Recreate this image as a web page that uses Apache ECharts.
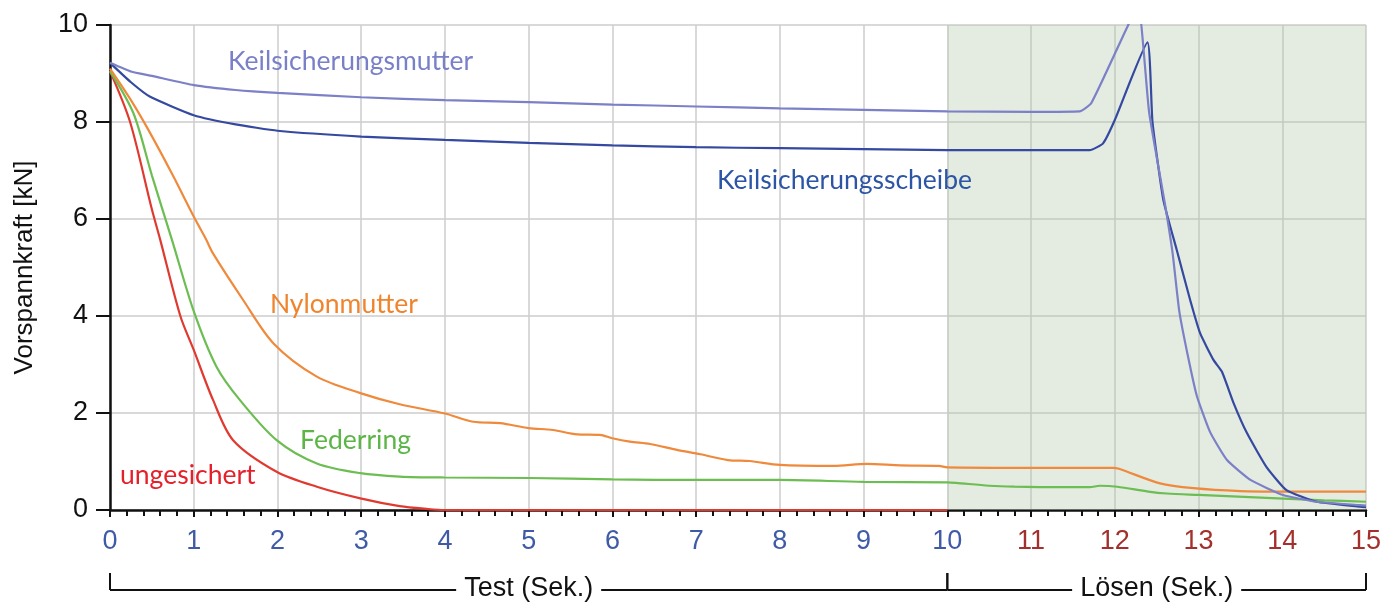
<!DOCTYPE html>
<html><head><meta charset="utf-8">
<script src="https://cdn.jsdelivr.net/npm/echarts@6/dist/echarts.min.js"></script>
<style>html,body{margin:0;padding:0;background:#fff}#c{width:1397px;height:604px}</style>
</head><body><div id="c"></div>
<script>
// ---- data (time in s, preload force in kN) ----
const seriesNames = ['Keilsicherungsmutter','Keilsicherungsscheibe','Nylonmutter','Federring','ungesichert'];
const keilmutter = [[0,9.22],[0.25,9.04],[0.5,8.95],[1,8.76],[1.5,8.66],[2,8.6],[3,8.51],[4,8.45],[5,8.41],[6,8.36],[7,8.32],[8,8.28],[9,8.25],[10,8.22],[11,8.21],[11.58,8.22],[11.72,8.39],[12.16,10],[12.28,10.4],[12.41,8.2],[12.6,6.3],[12.69,5.3],[12.77,4.1],[12.87,3.2],[12.98,2.35],[13.14,1.6],[13.34,1.03],[13.62,0.62],[14.01,0.31],[14.41,0.17],[14.93,0.1],[15,0.09]];
const keilscheibe = [[0,9.22],[0.25,8.82],[0.48,8.52],[1,8.14],[1.5,7.95],[2,7.82],[3,7.7],[4,7.63],[5,7.57],[6,7.52],[7,7.48],[8,7.46],[9,7.44],[10,7.42],[11,7.42],[11.7,7.42],[11.86,7.56],[12.0,8.04],[12.39,9.64],[12.45,8.0],[12.58,6.39],[12.74,5.36],[12.9,4.33],[13.02,3.64],[13.18,3.09],[13.28,2.85],[13.42,2.2],[13.58,1.58],[13.81,0.89],[14.05,0.41],[14.41,0.17],[14.93,0.07],[15,0.06]];
const nylonmutter = [[0,9.1],[0.25,8.45],[0.48,7.77],[0.75,6.9],[1.0,6.05],[1.15,5.57],[1.23,5.29],[1.59,4.33],[1.95,3.44],[2.47,2.75],[2.99,2.41],[3.46,2.18],[4.0,1.99],[4.34,1.82],[4.66,1.79],[5.0,1.69],[5.29,1.65],[5.58,1.56],[5.85,1.55],[6.0,1.48],[6.21,1.41],[6.45,1.36],[6.77,1.24],[7.05,1.15],[7.38,1.03],[7.64,1.01],[8.0,0.93],[8.64,0.91],[9.04,0.95],[9.44,0.92],[9.9,0.91],[10,0.88],[11,0.87],[11.98,0.87],[12.05,0.85],[12.54,0.55],[12.94,0.45],[13.5,0.39],[14,0.38],[15,0.38]];
const federring = [[0,9.05],[0.28,8.18],[0.5,6.9],[0.74,5.57],[1.0,4.1],[1.27,2.96],[1.55,2.27],[1.99,1.44],[2.47,0.96],[2.99,0.76],[3.46,0.69],[4,0.67],[5,0.66],[6,0.63],[7,0.62],[8,0.62],[9,0.58],[10,0.57],[10.1,0.56],[10.5,0.5],[10.8,0.48],[11.4,0.47],[11.7,0.47],[11.82,0.5],[12.03,0.48],[12.4,0.38],[12.62,0.34],[13,0.31],[13.81,0.25],[14.5,0.2],[15,0.17]];
const ungesichert = [[0,9.05],[0.24,8.0],[0.5,6.2],[0.6,5.57],[0.84,4.0],[1.0,3.3],[1.23,2.27],[1.47,1.44],[1.99,0.79],[2.47,0.48],[2.99,0.24],[3.46,0.08],[3.8,0.02],[4,0],[10,0]];
const xTickValues = [0,1,2,3,4,5,6,7,8,9,10,11,12,13,14,15];
const yTickValues = [0,2,4,6,8,10];
const phases = [{name:'Test (Sek.)',from:0,to:10},{name:'Lösen (Sek.)',from:10,to:15}];

// ---- style / layout ----
const colors = ['#7c80c6','#34499f','#ef8a3c','#6cbd52','#e03a30'];
const textColors = ['#7a80c8','#2d55a5','#f0842c','#5cb546','#e4202a'];
const smoothness = [0.15,0.15,0.3,0.3,0.3];
const labelAnchors = [[1.41,9.24],[7.25,6.8],[1.91,4.23],[2.27,1.44],[0.12,0.72]];
const seriesData = [keilmutter, keilscheibe, nylonmutter, federring, ungesichert];

const chart = echarts.init(document.getElementById('c'), null, {renderer:'canvas'});
const axisFont = 'Liberation Sans, Arial, Helvetica, sans-serif';
const option = {
  animation:false,
  backgroundColor:'#ffffff',
  grid:{left:110,right:31,top:25,bottom:94,containLabel:false},
  xAxis:{
    type:'value',min:0,max:15,interval:1,
    axisLine:{show:true,onZero:false,lineStyle:{color:'#111',width:2.5}},
    axisTick:{show:true,length:7,lineStyle:{color:'#111',width:2}},
    minorTick:{show:true,splitNumber:5,length:6,lineStyle:{color:'#111',width:2}},
    splitLine:{show:true,lineStyle:{color:'#cccccc',width:1.5}},
    axisLabel:{
      margin:18,
      formatter:function(v){return (v<=10?'{b|':'{r|')+v+'}';},
      rich:{
        b:{color:'#3f5aa6',fontSize:27,fontFamily:axisFont},
        r:{color:'#a3302c',fontSize:27,fontFamily:axisFont}
      }
    }
  },
  yAxis:{
    type:'value',min:0,max:10,interval:2,
    name:'Vorspannkraft [kN]',nameLocation:'middle',nameRotate:90,nameGap:72,
    nameTextStyle:{color:'#111',fontSize:26,fontFamily:axisFont},
    axisLine:{show:true,lineStyle:{color:'#111',width:2.5}},
    axisTick:{show:true,length:14,lineStyle:{color:'#111',width:2}},
    splitLine:{show:true,lineStyle:{color:'#cccccc',width:1.5}},
    axisLabel:{margin:22,color:'#111',fontSize:27,fontFamily:axisFont}
  },
  series: seriesData.map((d,i)=>({
    name:seriesNames[i],type:'line',data:d,showSymbol:false,
    smooth:smoothness[i],clip:true,
    lineStyle:{color:colors[i],width:2.2},
    z: 5-i+2,
    markArea: i===0 ? {silent:true,itemStyle:{color:'rgba(178,198,169,0.35)'},
      data:[[{xAxis:phases[1].from},{xAxis:phases[1].to}]]} : undefined
  }))
};
chart.setOption(option);

// annotations positioned through the chart's own scales
const g = [];
seriesNames.forEach((n,i)=>{
  const p = chart.convertToPixel({gridIndex:0}, labelAnchors[i]);
  g.push({type:'text',x:p[0],y:p[1],z:20,style:{text:n,fill:textColors[i],font:'26.5px Lato, "Noto Sans", sans-serif',textVerticalAlign:'middle',textAlign:'left'}});
});
const y0 = chart.convertToPixel({gridIndex:0},[0,0])[1];
const by = y0 + 80, bt = y0 + 63;
phases.forEach(ph=>{
  const a = chart.convertToPixel({gridIndex:0},[ph.from,0])[0];
  const b = chart.convertToPixel({gridIndex:0},[ph.to,0])[0];
  g.push({type:'line',shape:{x1:a,y1:by,x2:b,y2:by},style:{stroke:'#111',lineWidth:2},z:10});
  g.push({type:'line',shape:{x1:a,y1:bt,x2:a,y2:by},style:{stroke:'#111',lineWidth:2},z:10});
  g.push({type:'line',shape:{x1:b,y1:bt,x2:b,y2:by},style:{stroke:'#111',lineWidth:2},z:10});
  g.push({type:'text',x:(a+b)/2,y:by-1,z:12,style:{text:ph.name,fill:'#111',font:'27px '+axisFont,textAlign:'center',textVerticalAlign:'middle',backgroundColor:'#fff',padding:[0,8]}});
});
chart.setOption({graphic:g});
</script></body></html>
